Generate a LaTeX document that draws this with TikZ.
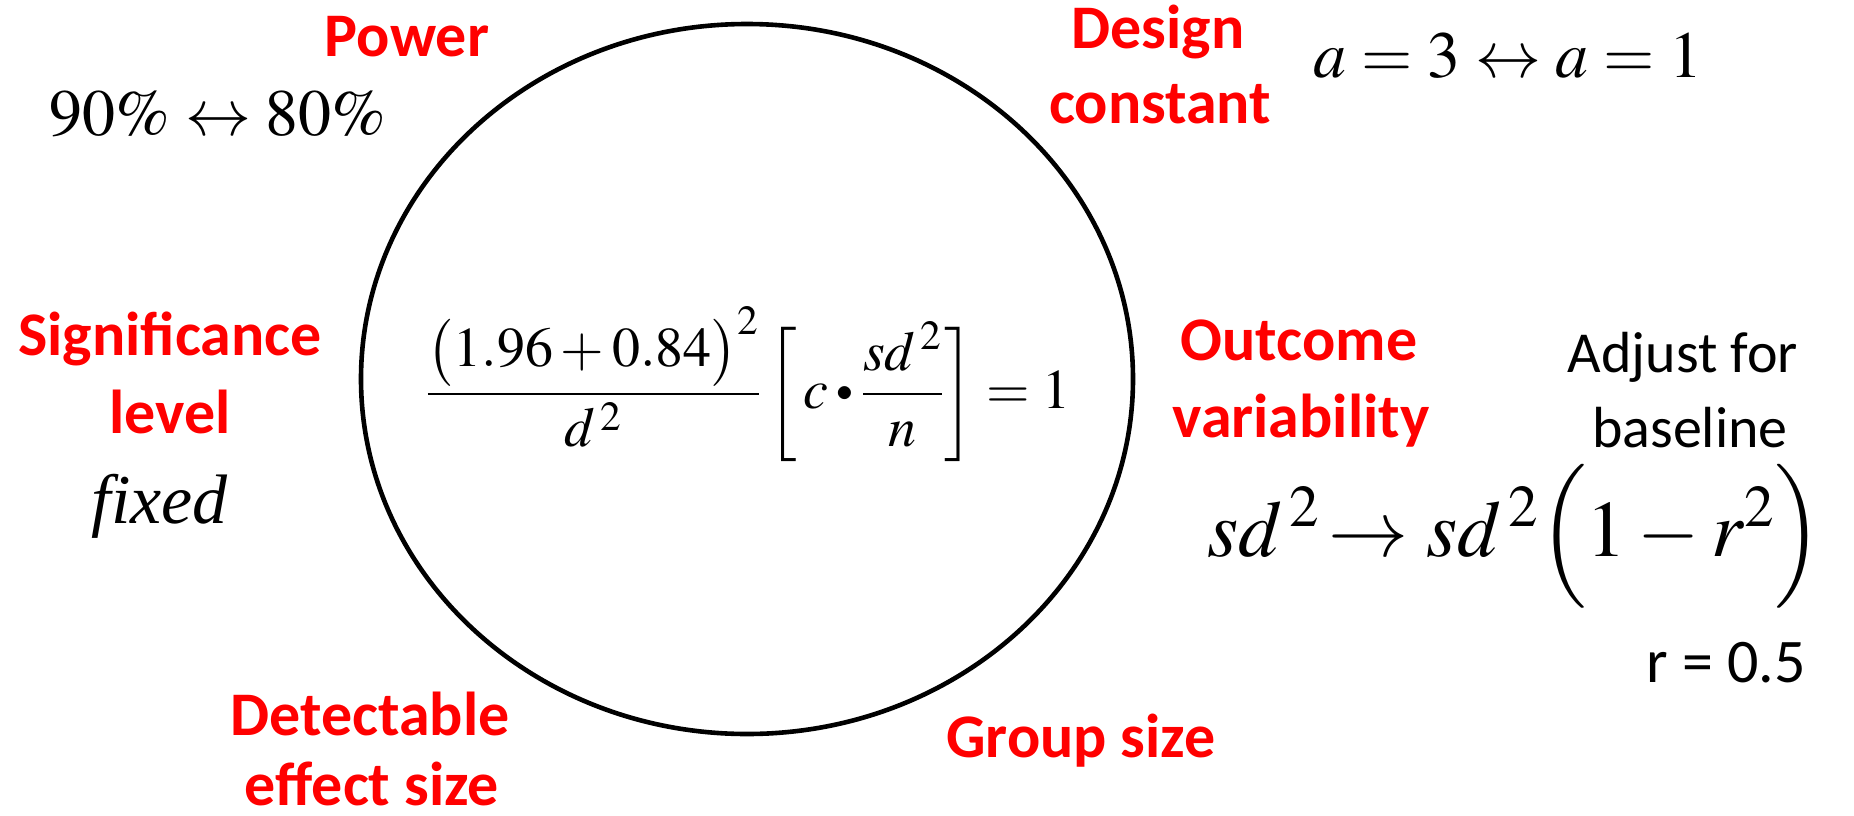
\documentclass[tikz,border=0pt]{standalone}
\usepackage{amsmath}
\usepackage{mathptmx}
\usepackage[no-math]{fontspec}
\setmainfont{Liberation Serif}
\newfontfamily\calibri{Carlito}
\usepackage{xcolor}
\definecolor{lblred}{RGB}{255,0,0}
\newcommand{\dotop}{\mathbin{\vcenter{\hbox{\scalebox{0.6}{$\bullet$}}}}}

\begin{document}
\begin{tikzpicture}[x=0.5pt, y=-0.5pt,
        lbl/.style={text=lblred, font=\calibri\bfseries\fontsize{31}{38}\selectfont, anchor=base, inner sep=0pt},
        note/.style={font=\calibri\fontsize{29}{35}\selectfont, anchor=base, inner sep=0pt},
        eqn/.style={font=\fontsize{33}{38}\selectfont, anchor=base, inner sep=0pt}]
    \useasboundingbox (0,0) rectangle (1854,815);

    % the sample size balance
    \draw[line width=2.3pt] (747,379) ellipse [x radius=386, y radius=355];
    \node[eqn, font=\fontsize{28}{34}\selectfont] (core) at (748,408)
        {$\dfrac{\bigl(1.96+0.84\bigr)^{2}}{d^{\,2}}\left[\,c\dotop\dfrac{sd^{\,2}}{n}\right]=1$};

    % levers round the ellipse
    \node[lbl] (power) at (407,56) {Power};
    \node[eqn] (powerval) at (218,135) {$90\%\leftrightarrow80\%$};
    \node[lbl] (design) at (1158,48) {Design};
    \node[lbl] (designb) at (1160,123) {constant};
    \node[eqn] (designval) at (1508,77) {$a=3\leftrightarrow a=1$};
    \node[lbl] (signif) at (170,355) {Significance};
    \node[lbl] (signifb) at (170,433) {level};
    \node[eqn, font=\fontsize{35}{40}\selectfont] (signifval) at (160,523) {\textit{fixed}};
    \node[lbl] (outcome) at (1299,360) {Outcome};
    \node[lbl] (outcomeb) at (1301,437) {variability};
    \node[note] (adjust) at (1683,372) {Adjust for};
    \node[note] (adjustb) at (1690,447) {baseline};
    \node[eqn, font=\fontsize{40}{48}\selectfont] (adjustval) at (1515,556)
        {$sd^{\,2}\!\rightarrow sd^{\,2}\Bigl(1-r^{2}\Bigr)$};
    \node[note, font=\calibri\fontsize{31}{36}\selectfont] (rval) at (1726,682) {r = 0.5};
    \node[lbl] (effect) at (370,735) {Detectable};
    \node[lbl] (effectb) at (372,805) {effect size};
    \node[lbl] (group) at (1081,757) {Group size};
\end{tikzpicture}
\end{document}
